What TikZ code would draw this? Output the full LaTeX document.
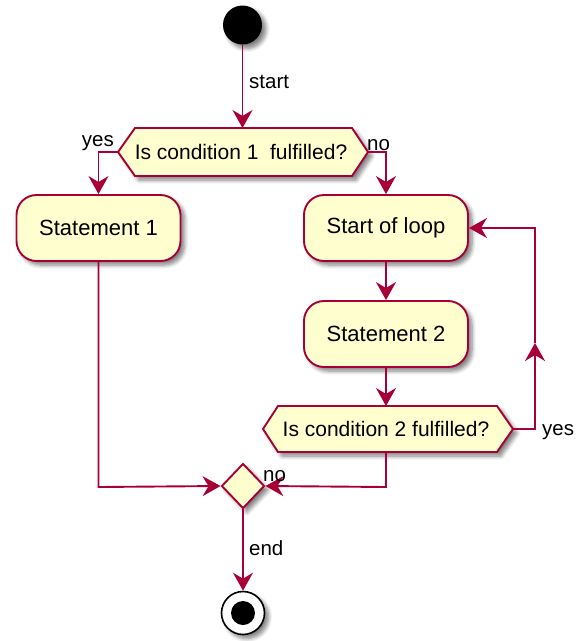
\documentclass[tikz,border=0pt]{standalone}
\usepackage{fontspec}
\setmainfont{Liberation Sans}
\usetikzlibrary{arrows.meta,shapes.geometric,shadows.blur}

\definecolor{umlline}{HTML}{A80036}
\definecolor{umlfill}{HTML}{FEFECE}

\tikzset{
  softshadow/.style={blur shadow={shadow xshift=4pt, shadow yshift=-4pt,
      shadow blur radius=4pt, shadow blur steps=6, shadow opacity=50}},
  action/.style={draw=umlline, fill=umlfill, line width=1.9pt,
      rounded corners=20pt, minimum width=164pt, minimum height=66pt,
      inner sep=0pt, softshadow, font=\fontsize{22}{26}\selectfont},
  decision/.style={draw=umlline, fill=umlfill, line width=1.9pt, softshadow},
  merge/.style={diamond, draw=umlline, fill=umlfill, line width=1.9pt,
      minimum width=43pt, minimum height=45pt, inner sep=0pt, softshadow},
  txt/.style={inner sep=0pt, font=\fontsize{21}{25}\selectfont},
  lbl/.style={inner sep=1pt, font=\fontsize{20.5}{24}\selectfont},
  flow/.style={draw=umlline, line width=1.9pt,
      -{Stealth[length=18pt, width=20pt, inset=6pt]}},
}

\begin{document}
\begin{tikzpicture}[x=1pt, y=-1pt]
\useasboundingbox (0,0) rectangle (576,641);

% initial node
\node[circle, fill=black, minimum size=39pt, inner sep=0pt, softshadow] (start) at (242.5,25) {};

% first decision
\path[decision] (118,152) -- (135,128) -- (352,128) -- (368,152) -- (352,176) -- (135,176) -- cycle;
\node[txt] (q1) at (241,152) {Is condition 1\ \ fulfilled?};
\coordinate (q1n) at (242.5,128);
\coordinate (q1w) at (118,152);
\coordinate (q1e) at (368,152);

% actions
\node[action] (st1) at (98.5,228) {Statement 1};
\node[action] (loop) at (386,228) {Start of loop};
\node[action] (st2) at (386,334) {Statement 2};

% second decision
\path[decision] (263,429) -- (278,406) -- (497,406) -- (513,429) -- (497,452) -- (278,452) -- cycle;
\node[txt] (q2) at (386,429) {Is condition 2 fulfilled?};
\coordinate (q2n) at (386,406);
\coordinate (q2s) at (386,452);
\coordinate (q2e) at (513,429);

% merge and final node
\node[merge] (m) at (243,486) {};
\node[circle, draw=black, fill=white, line width=1.6pt, minimum size=43pt, inner sep=0pt, softshadow] (fin) at (243,613) {};
\node[circle, fill=black, minimum size=24pt, inner sep=0pt] (fincore) at (fin.center) {};

% loop-back helper points
\coordinate (yesR) at (535,429);
\coordinate (yesM) at (535,343);
\coordinate (yesT) at (535,228);
\coordinate (noC) at (386,487);
\coordinate (s1C) at (98.5,487);

% connectors
\draw[flow] (start) -- (q1n);
\node[lbl, anchor=west] (lstart) at (248,82) {start};

\draw[flow] (q1w) -| (st1.north);
\node[lbl, anchor=south east] (lyes1) at (115,152) {yes};
\draw[flow] (q1e) -| (loop.north);
\node[lbl, anchor=south west] (lno1) at (366,152) {no};

\draw[flow] (loop) -- (st2);
\draw[flow] (st2) -- (q2n);

\draw[flow] (q2e) -- (yesR) -- (yesM);
\draw[flow] (yesM) -- (yesT) -- (loop.east);
\node[lbl, anchor=west] (lyes2) at (541,432) {yes};

\draw[flow] (q2s) -- (noC) -- (m.east);
\node[lbl, anchor=west] (lno2) at (262,476) {no};

\draw[flow] (st1.south) -- (s1C) -- (m.west);

\draw[flow] (m.south) -- (fin.north);
\node[lbl, anchor=west] (lend) at (248,548) {end};
\end{tikzpicture}
\end{document}
